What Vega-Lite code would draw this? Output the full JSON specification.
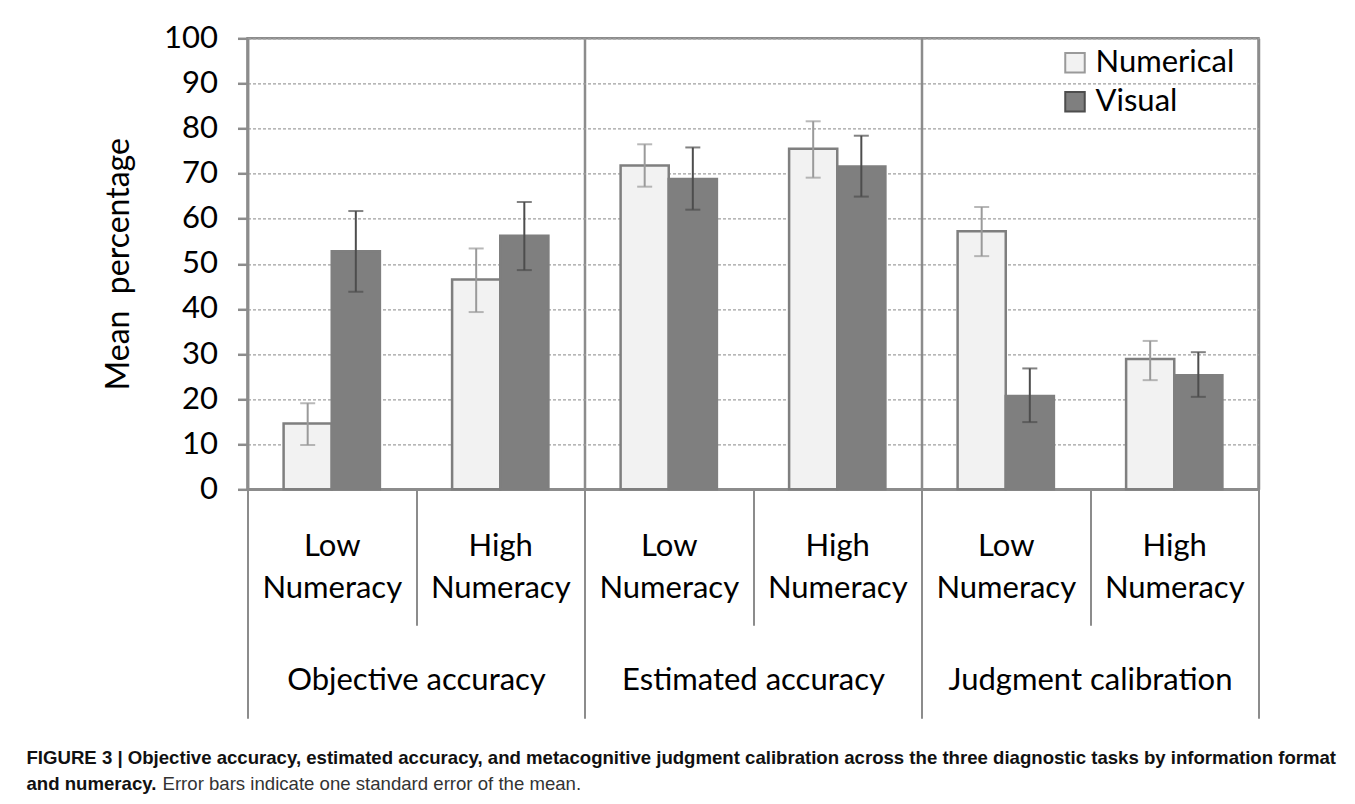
{
  "$schema": "https://vega.github.io/schema/vega-lite/v6.json",
  "width": 1011,
  "height": 451,
  "autosize": {"type": "none"},
  "padding": {"left": 247.5, "top": 38.3, "right": 96.5, "bottom": 314.7},
  "background": "white",
  "config": {
    "view": {"stroke": "#8c8c8c", "strokeWidth": 2.5},
    "font": "Lato"
  },
  "data": {
    "values": [
      {"group": "Objective accuracy", "sub": "Objective accuracy|Low", "format": "Numerical", "value": 14.6, "lo": 9.8, "hi": 19.1},
      {"group": "Objective accuracy", "sub": "Objective accuracy|Low", "format": "Visual", "value": 52.8, "lo": 43.8, "hi": 61.7},
      {"group": "Objective accuracy", "sub": "Objective accuracy|High", "format": "Numerical", "value": 46.5, "lo": 39.3, "hi": 53.4},
      {"group": "Objective accuracy", "sub": "Objective accuracy|High", "format": "Visual", "value": 56.2, "lo": 48.6, "hi": 63.7},
      {"group": "Estimated accuracy", "sub": "Estimated accuracy|Low", "format": "Numerical", "value": 71.8, "lo": 67.1, "hi": 76.5},
      {"group": "Estimated accuracy", "sub": "Estimated accuracy|Low", "format": "Visual", "value": 68.8, "lo": 62.0, "hi": 75.8},
      {"group": "Estimated accuracy", "sub": "Estimated accuracy|High", "format": "Numerical", "value": 75.5, "lo": 69.1, "hi": 81.6},
      {"group": "Estimated accuracy", "sub": "Estimated accuracy|High", "format": "Visual", "value": 71.6, "lo": 64.9, "hi": 78.4},
      {"group": "Judgment calibration", "sub": "Judgment calibration|Low", "format": "Numerical", "value": 57.2, "lo": 51.7, "hi": 62.6},
      {"group": "Judgment calibration", "sub": "Judgment calibration|Low", "format": "Visual", "value": 20.7, "lo": 14.9, "hi": 26.8},
      {"group": "Judgment calibration", "sub": "Judgment calibration|High", "format": "Numerical", "value": 28.9, "lo": 24.2, "hi": 32.9},
      {"group": "Judgment calibration", "sub": "Judgment calibration|High", "format": "Visual", "value": 25.3, "lo": 20.5, "hi": 30.4}
    ]
  },
  "layer": [
    {
      "encoding": {
        "x": {
          "field": "sub",
          "type": "nominal",
          "sort": null,
          "scale": {"paddingInner": 0, "paddingOuter": 0},
          "axis": {
            "orient": "bottom",
            "labelExpr": "indexof(datum.value + '', '|') >= 0 ? [split(datum.value, '|')[1], 'Numeracy'] : ''",
            "labelFont": "Lato",
            "labelFontSize": 31,
            "labelColor": "#000000",
            "labelLineHeight": 42,
            "labelAngle": 0,
            "labelBaseline": "middle",
            "labelPadding": -79,
            "labelOverlap": false,
            "labelBound": false,
            "labelFlush": false,
            "labelLimit": 0,
            "tickBand": "extent",
            "tickSize": 136,
            "tickColor": "#8c8c8c",
            "tickWidth": 2,
            "domain": true,
            "domainColor": "#8c8c8c",
            "domainWidth": 2.5,
            "grid": false,
            "title": ["FIGURE 3 | Objective accuracy, estimated accuracy, and metacognitive judgment calibration across the three diagnostic tasks by information format", "and numeracy."],
            "titleFont": "Liberation Sans",
            "titleFontSize": 18.6,
            "titleFontWeight": "bold",
            "titleColor": "#111111",
            "titleAlign": "left",
            "titleBaseline": "alphabetic",
            "titleAngle": 0,
            "titleX": -221.5,
            "titleY": 274,
            "titleLineHeight": 26,
            "titleLimit": 0
          }
        },
        "xOffset": {
          "field": "format",
          "type": "nominal",
          "sort": ["Numerical", "Visual"],
          "scale": {"paddingInner": 0, "paddingOuter": 0.75}
        }
      },
      "layer": [
        {
          "mark": {"type": "bar", "stroke": "#7f7f7f", "strokeWidth": 2.5},
          "encoding": {
            "y": {
              "field": "value",
              "type": "quantitative",
              "scale": {"domain": [0, 100], "nice": false, "zero": true},
              "axis": {
                "values": [0, 10, 20, 30, 40, 50, 60, 70, 80, 90, 100],
                "title": "Mean\u00a0 percentage",
                "titleFont": "Lato",
                "titleFontSize": 32,
                "titleFontWeight": "normal",
                "titleColor": "#000000",
                "titlePadding": 28,
                "labelFont": "Lato",
                "labelFontSize": 31,
                "labelColor": "#000000",
                "labelPadding": 20,
                "tickSize": 10,
                "tickColor": "#8c8c8c",
                "tickWidth": 2.5,
                "domainColor": "#8c8c8c",
                "domainWidth": 2.5,
                "grid": true,
                "gridColor": "#a0a0a0",
                "gridDash": [3, 2],
                "gridWidth": 1.2
              }
            },
            "fill": {
              "field": "format",
              "type": "nominal",
              "scale": {"domain": ["Numerical", "Visual"], "range": ["#f2f2f2", "#7f7f7f"]},
              "legend": {
                "title": null,
                "orient": "none",
                "legendX": 812,
                "legendY": 9,
                "padding": 0,
                "symbolType": "square",
                "symbolSize": 380,
                "symbolStrokeColor": "#7f7f7f",
                "symbolStrokeWidth": 2,
                "labelFont": "Lato",
                "labelFontSize": 31,
                "labelColor": "#000000",
                "labelOffset": 5,
                "labelLimit": 0,
                "rowPadding": 7
              }
            }
          }
        },
        {
          "mark": {"type": "rule", "strokeWidth": 2},
          "encoding": {
            "y": {"field": "lo", "type": "quantitative"},
            "y2": {"field": "hi"},
            "color": {
              "field": "format",
              "type": "nominal",
              "scale": {"domain": ["Numerical", "Visual"], "range": ["#9a9a9a", "#4d4d4d"]},
              "legend": null
            }
          }
        },
        {
          "mark": {"type": "tick", "size": 15, "thickness": 2},
          "encoding": {
            "y": {"field": "lo", "type": "quantitative"},
            "color": {"field": "format", "type": "nominal", "legend": null}
          }
        },
        {
          "mark": {"type": "tick", "size": 15, "thickness": 2},
          "encoding": {
            "y": {"field": "hi", "type": "quantitative"},
            "color": {"field": "format", "type": "nominal", "legend": null}
          }
        }
      ]
    },
    {
      "mark": {"type": "tick", "opacity": 0},
      "encoding": {
        "x": {
          "field": "group",
          "type": "nominal",
          "sort": null,
          "scale": {"paddingInner": 0, "paddingOuter": 0},
          "axis": {
            "orient": "bottom",
            "labelFont": "Lato",
            "labelFontSize": 31,
            "labelColor": "#000000",
            "labelAngle": 0,
            "labelBaseline": "middle",
            "labelPadding": -38,
            "labelOverlap": false,
            "labelBound": false,
            "labelFlush": false,
            "labelLimit": 0,
            "tickBand": "extent",
            "tickSize": 229,
            "tickColor": "#8c8c8c",
            "tickWidth": 2,
            "domain": false,
            "grid": true,
            "gridColor": "#8c8c8c",
            "gridWidth": 2.5,
            "gridDash": [],
            "title": "Error bars indicate one standard error of the mean.",
            "titleFont": "Liberation Sans",
            "titleFontSize": 18.6,
            "titleFontWeight": "normal",
            "titleColor": "#333333",
            "titleAlign": "left",
            "titleBaseline": "alphabetic",
            "titleAngle": 0,
            "titleX": -85.5,
            "titleY": 300,
            "titleLimit": 0
          }
        },
        "y": {"field": "value", "type": "quantitative"}
      }
    }
  ],
  "resolve": {"scale": {"x": "independent"}, "axis": {"x": "independent"}}
}
